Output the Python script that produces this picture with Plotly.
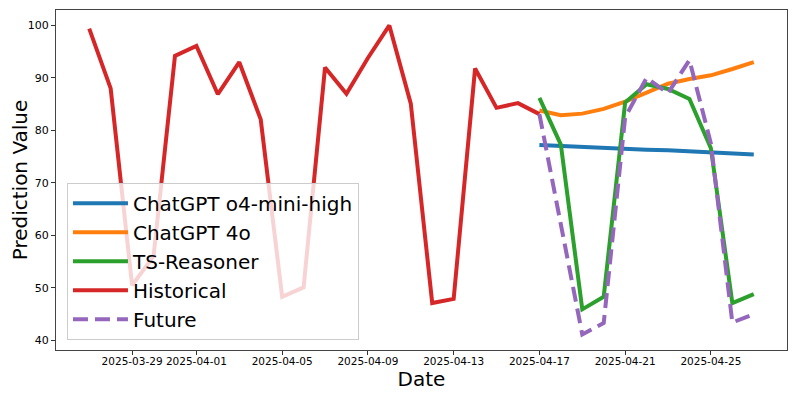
import pandas as pd
import plotly.graph_objects as go

# dates
hist_dates = pd.date_range("2025-03-27", "2025-04-17", freq="D")
fc_dates = pd.date_range("2025-04-17", "2025-04-27", freq="D")

# historical values (03-27 .. 04-17)
historical = [99.4, 88.0, 50.5, 56.0, 94.2, 96.1, 86.9, 93.0, 82.1, 48.3, 50.1,
              92.0, 87.0, 93.8, 100.0, 85.1, 47.1, 47.9, 91.8, 84.3, 85.2, 83.1]

# forecasts (04-17 .. 04-27)
future = [83.1, 62.0, 41.1, 43.3, 82.5, 90.0, 87.1, 93.4, 77.5, 43.4, 45.0]
ts_reasoner = [86.2, 77.3, 45.9, 48.3, 85.3, 88.8, 87.9, 86.0, 76.6, 47.1, 48.8]
gpt_4o = [83.8, 82.9, 83.2, 84.1, 85.5, 87.3, 88.9, 89.8, 90.5, 91.7, 93.0]
o4_mini_high = [77.2, 77.0, 76.9, 76.7, 76.5, 76.3, 76.2, 76.0, 75.8, 75.6, 75.4]

tick_dates = ["2025-03-29", "2025-04-01", "2025-04-05", "2025-04-09",
              "2025-04-13", "2025-04-17", "2025-04-21", "2025-04-25"]
y_ticks = [40, 50, 60, 70, 80, 90, 100]

FONT = "DejaVu Sans"

fig = go.Figure()

series = [
    ("ChatGPT o4-mini-high", fc_dates, o4_mini_high, "#1f77b4", "solid"),
    ("ChatGPT 4o", fc_dates, gpt_4o, "#ff7f0e", "solid"),
    ("TS-Reasoner", fc_dates, ts_reasoner, "#2ca02c", "solid"),
    ("Historical", hist_dates, historical, "#d62728", "solid"),
    ("Future", fc_dates, future, "#9467bd", "15px,7px"),
]
for name, x, y, color, dash in series:
    fig.add_trace(go.Scatter(x=x, y=y, mode="lines", name=name,
                             line=dict(color=color, width=4, dash=dash)))

# matplotlib-like 5% margins
x_min, x_max = hist_dates.min(), fc_dates.max()
x_pad = (x_max - x_min) * 0.05
all_y = historical + future + ts_reasoner + gpt_4o + o4_mini_high
y_pad = (max(all_y) - min(all_y)) * 0.05

# page body has an 8px margin, so the figure is shrunk by that much
fig.update_layout(
    width=789, height=391,
    margin=dict(l=48, r=10, t=2, b=49),
    plot_bgcolor="white", paper_bgcolor="white",
    font=dict(family=FONT, color="black"),
    showlegend=True,
    legend=dict(
        x=0.015, y=0.03, xanchor="left", yanchor="bottom",
        bgcolor="rgba(255,255,255,0.8)", bordercolor="#cccccc", borderwidth=1,
        font=dict(size=20, family=FONT), itemwidth=55,
    ),
)
fig.update_xaxes(
    automargin=False,
    range=[x_min - x_pad, x_max + x_pad],
    tickvals=tick_dates, ticktext=tick_dates,
    tickfont=dict(size=10.5), ticks="outside", ticklen=4, tickcolor="#333",
    ticklabelstandoff=-3,
    showgrid=False, zeroline=False,
    showline=True, linecolor="#444", linewidth=1, mirror=True,
    title=dict(text="Date", font=dict(size=20), standoff=2),
)
fig.update_yaxes(
    automargin=False,
    range=[min(all_y) - y_pad, max(all_y) + y_pad],
    tickvals=y_ticks,
    tickfont=dict(size=11), ticks="outside", ticklen=4, tickcolor="#333",
    showgrid=False, zeroline=False,
    showline=True, linecolor="#444", linewidth=1, mirror=True,
    title=dict(text="Prediction Value", font=dict(size=20), standoff=4),
)

fig.write_html("out.html")
